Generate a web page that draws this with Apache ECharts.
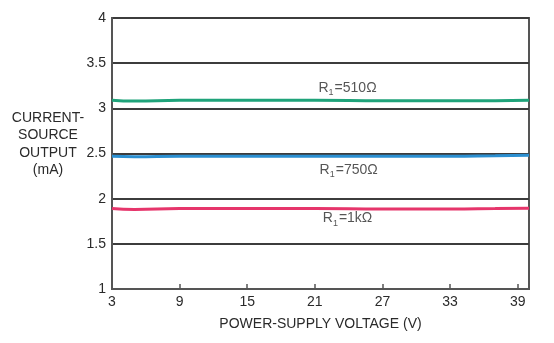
<!DOCTYPE html>
<html>
<head>
<meta charset="utf-8">
<script src="https://cdn.jsdelivr.net/npm/echarts@6/dist/echarts.min.js"></script>
<style>
  html, body { margin: 0; padding: 0; background: #fff; }
  #chart { width: 554px; height: 343px; }
</style>
</head>
<body>
<div id="chart"></div>
<script>
// Supply voltage samples (V)
const voltage = [3, 5, 9, 15, 21, 27, 33, 37, 40];
// Current-source output (mA) for each R1 value
const out510 = [3.09, 3.08, 3.09, 3.09, 3.09, 3.085, 3.085, 3.085, 3.09];
const out750 = [2.47, 2.465, 2.47, 2.47, 2.47, 2.47, 2.47, 2.475, 2.48];
const out1k  = [1.89, 1.88, 1.89, 1.89, 1.89, 1.885, 1.885, 1.89, 1.895];
// Axis ticks
const xTicks = [3, 9, 15, 21, 27, 33, 39];
const yTicks = [1, 1.5, 2, 2.5, 3, 3.5, 4];
// Curve annotations: [label text, voltage, mA]
const notes = [
  ['R{s|1}=510Ω', 23.9, 3.22],
  ['R{s|1}=750Ω', 24.0, 2.32],
  ['R{s|1}=1kΩ', 23.9, 1.78]
];

const FONT = 'Liberation Sans, Arial, Helvetica, sans-serif';
const ink = '#2a2a2a';
const FS = 14;

function pairs(ys) { return voltage.map((v, i) => [v, ys[i]]); }

function noteSeries(note) {
  return {
    type: 'scatter', symbolSize: 0, silent: true,
    data: [[note[1], note[2]]],
    label: {
      show: true, position: 'inside',
      formatter: note[0],
      color: ink, fontFamily: FONT, fontSize: FS,
      rich: {
        s: { fontSize: 9, fontFamily: FONT, color: ink, padding: [9, 1, 0, 0] }
      }
    }
  };
}

const chart = echarts.init(document.getElementById('chart'), null, { renderer: 'canvas' });
chart.setOption({
  animation: false,
  backgroundColor: '#fff',
  grid: { left: 112, right: 25, top: 18, bottom: 54, show: true, borderColor: '#555', borderWidth: 2, backgroundColor: 'transparent' },
  xAxis: {
    type: 'value', min: 3, max: 40,
    name: 'POWER-SUPPLY VOLTAGE (V)', nameLocation: 'middle', nameGap: 28,
    nameTextStyle: { color: ink, fontFamily: FONT, fontSize: FS, verticalAlign: 'top' },
    axisLine: { show: true, lineStyle: { color: '#555', width: 2 } },
    axisTick: { show: true, inside: true, length: 5, customValues: xTicks, lineStyle: { color: '#555', width: 1.5 } },
    axisLabel: { customValues: xTicks, color: ink, fontFamily: FONT, fontSize: FS, margin: 6 },
    splitLine: { show: false }
  },
  yAxis: {
    type: 'value', min: 1, max: 4, interval: 0.5,
    axisLine: { show: true, lineStyle: { color: '#555', width: 2 } },
    axisTick: { show: false },
    axisLabel: { color: ink, fontFamily: FONT, fontSize: FS, margin: 6,
      formatter: v => (yTicks.indexOf(v) >= 0 ? String(v) : '') },
    splitLine: { show: true, lineStyle: { color: '#3c3c3c', width: 2 } }
  },
  graphic: [{
    type: 'text', x: 48, y: 109,
    style: {
      text: 'CURRENT-\nSOURCE\nOUTPUT\n(mA)',
      font: FS + 'px ' + FONT, fill: ink,
      align: 'center', textAlign: 'center', verticalAlign: 'top', lineHeight: 17.5
    }
  }],
  series: [
    { type: 'line', data: pairs(out510), smooth: true, symbol: 'none', lineStyle: { color: '#1fa37a', width: 3 }, z: 3 },
    { type: 'line', data: pairs(out750), smooth: true, symbol: 'none', lineStyle: { color: '#2b8fd1', width: 3 }, z: 3 },
    { type: 'line', data: pairs(out1k), smooth: true, symbol: 'none', lineStyle: { color: '#e6356b', width: 3 }, z: 3 },
    noteSeries(notes[0]),
    noteSeries(notes[1]),
    noteSeries(notes[2])
  ]
});
</script>
</body>
</html>
